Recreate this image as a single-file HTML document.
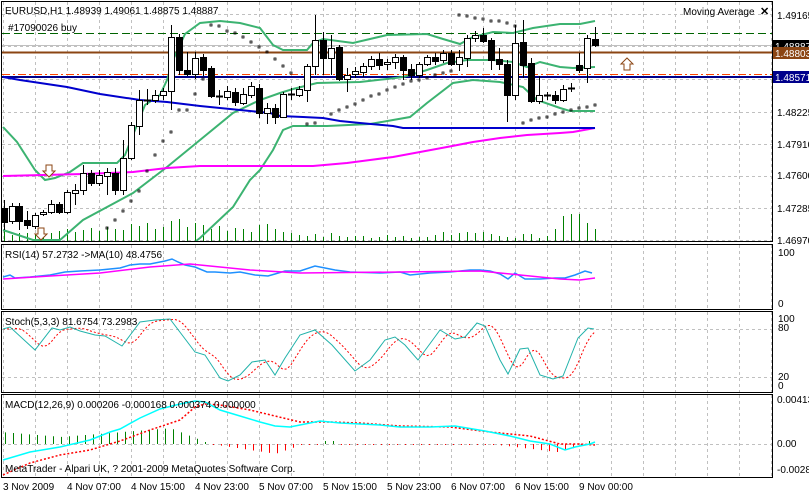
<!DOCTYPE html>
<html><head><meta charset="utf-8"><style>
body{margin:0;background:#fff;width:809px;height:494px;overflow:hidden}
svg{display:block;font-family:"Liberation Sans",sans-serif}
</style></head><body>
<svg id="s" width="809" height="494" xmlns="http://www.w3.org/2000/svg">
<rect x="0" y="0" width="809" height="494" fill="#fff"/>
<g id="grid" stroke="#c0c0c0" stroke-dasharray="3,3" stroke-width="1"></g>
<g id="main"></g>
<g id="frames" fill="none" stroke="#000" stroke-width="1">
<rect x="1.5" y="1.5" width="771" height="240"/>
<rect x="1.5" y="244.5" width="771" height="65"/>
<rect x="1.5" y="311.5" width="771" height="81"/>
<rect x="1.5" y="394.5" width="771" height="83"/>
</g>
<g font-size="10" fill="#000">
<text x="5" y="14">EURUSD,H1  1.48939 1.49061 1.48875 1.48887</text>
<text x="8" y="31">#17090026 buy</text>
<text x="683" y="15">Moving Average</text>
<text x="760" y="15" font-size="11" font-weight="bold">✕</text>
<text x="777" y="19">1.49165</text>
<text x="777" y="116">1.48225</text>
<text x="777" y="148">1.47910</text>
<text x="777" y="179">1.47600</text>
<text x="777" y="212">1.47285</text>
<text x="777" y="244">1.46970</text>
<text x="778" y="256">100</text>
<text x="778" y="307">0</text>
<text x="778" y="322">100</text>
<text x="778" y="331">80</text>
<text x="778" y="380">20</text>
<text x="778" y="389">0</text>
<text x="777" y="403">0.00413</text>
<text x="777" y="447">0.00</text>
<text x="777" y="473">-0.00282</text>
<text x="5" y="258">RSI(14) 57.2732  ->MA(10) 48.4756</text>
<text x="5" y="325">Stoch(5,3,3) 81.6754 73.2983</text>
<text x="5" y="408">MACD(12,26,9) 0.000206 -0.000168 0.000374 0.000000</text>
<text x="5" y="472">MetaTrader - Alpari UK, ? 2001-2009 MetaQuotes Software Corp.</text>
<text x="3" y="490">3 Nov 2009</text>
<text x="67" y="490">4 Nov 07:00</text>
<text x="131" y="490">4 Nov 15:00</text>
<text x="195" y="490">4 Nov 23:00</text>
<text x="259" y="490">5 Nov 07:00</text>
<text x="323" y="490">5 Nov 15:00</text>
<text x="387" y="490">5 Nov 23:00</text>
<text x="451" y="490">6 Nov 07:00</text>
<text x="515" y="490">6 Nov 15:00</text>
<text x="579" y="490">9 Nov 00:00</text>
</g>
<g id="plabels" font-size="10"></g>
</svg>
<script>
var NS="http://www.w3.org/2000/svg";
function el(p,t,a){var e=document.createElementNS(NS,t);for(var k in a)e.setAttribute(k,a[k]);document.getElementById(p).appendChild(e);return e;}
function pl(pts,c,w,d){var s=pts.map(function(p){return p[0]+","+p[1]}).join(" ");var a={points:s,fill:"none",stroke:c,"stroke-width":w||1};if(d)a["stroke-dasharray"]=d;el("main","polyline",a);}
// grid
for(var x=3;x<772;x+=32){[[2,241],[245,309],[312,392],[395,477]].forEach(function(r){el("grid","line",{x1:x+.5,y1:r[0],x2:x+.5,y2:r[1]});});}
[14,46,79,112,144,176,208,240].forEach(function(y){el("grid","line",{x1:2,y1:y+.5,x2:772,y2:y+.5});});
[329,377].forEach(function(y){el("grid","line",{x1:2,y1:y+.5,x2:772,y2:y+.5});});
el("grid","line",{x1:2,y1:444.5,x2:772,y2:444.5});
// horizontal lines
el("main","line",{x1:2,y1:33.5,x2:772,y2:33.5,stroke:"#006400","stroke-dasharray":"8,4"});
el("main","line",{x1:2,y1:45.5,x2:772,y2:45.5,stroke:"#c0c0c0"});
el("main","line",{x1:2,y1:52.5,x2:772,y2:52.5,stroke:"#8b4513","stroke-width":2});
el("main","line",{x1:2,y1:74.5,x2:772,y2:74.5,stroke:"#ff4500","stroke-dasharray":"8,3,2,3"});
el("main","line",{x1:2,y1:77,x2:772,y2:77,stroke:"#00008b","stroke-width":2});
// volumes
var vol=[10,6,8,8,7,9,8,10,12,9,11,13,10,14,12,11,17,15,18,12,14,20,22,14,18,16,12,15,10,13,12,9,16,17,12,9,8,6,5,7,4,8,5,4,5,5,3,4,6,4,5,3,4,4,6,9,6,8,9,8,9,7,5,4,3,7,7,3,5,12,25,27,27,18,12,10,8,5,6,3,5,9];
// candles [x,open,close,high,low]
var C=[[4,208,222,200,230],[12,221,206,203,224],[19,206,221,203,230],[27,220,225,211,229],[35,226,215,213,229],[43,214,212,210,216],[51,212,204,200,214],[59,204,212,202,214],[67,212,192,190,214],[75,193,190,184,205],[83,190,173,165,195],[91,173,183,170,186],[99,183,175,170,186],[107,176,172,168,195],[115,173,190,168,195],[123,190,158,140,195],[131,158,125,122,160],[139,126,100,90,135],[147,100,100,89,105],[155,100,95,90,103],[163,95,91,88,100],[171,91,37,25,110],[179,37,70,34,75],[187,70,74,52,76],[195,74,58,52,79],[203,57,70,54,76],[211,68,96,66,98],[219,96,96,90,105],[227,97,91,86,100],[235,92,102,88,106],[243,103,94,88,105],[251,95,86,82,98],[259,88,113,84,118],[267,113,108,103,124],[275,108,117,104,124],[283,117,94,92,118],[291,94,94,88,100],[299,95,89,86,97],[307,90,66,64,102],[315,66,40,15,75],[323,40,58,32,75],[331,58,48,35,75],[339,47,79,45,81],[347,79,75,68,92],[355,74,71,67,78],[363,72,66,63,77],[371,66,59,56,70],[379,59,65,53,70],[387,64,62,59,70],[395,62,57,54,69],[403,57,70,55,80],[411,69,75,64,80],[419,75,64,62,78],[427,64,57,55,66],[435,57,61,53,65],[443,60,53,50,63],[451,53,64,50,66],[459,64,57,50,71],[467,58,38,35,67],[475,38,35,31,42],[483,35,41,28,43],[491,40,60,38,70],[499,59,64,48,70],[507,64,95,60,122],[515,95,43,25,100],[523,42,65,20,78],[531,63,101,58,103],[539,101,95,76,104],[547,95,95,92,100],[555,95,100,91,104],[563,100,89,85,102],[571,88,88,83,92],[579,65,70,53,73],[587,68,38,35,83],[595,39,45,27,47]];
C.forEach(function(c,i){var v=vol[i]||6;el("main","line",{x1:c[0]+.5,y1:241,x2:c[0]+.5,y2:241-v,stroke:"#008000"});});
// indicators lines (drawn before candles)
pl([[3,127],[17,142],[35,170],[45,180],[55,178],[70,172],[83,163],[117,163],[125,155],[135,130],[145,105],[160,95],[167,80],[173,60],[185,34],[200,23],[220,21],[240,23],[260,28],[273,45],[283,50],[307,50],[313,43],[323,39],[353,43],[370,39],[387,35],[427,34],[443,39],[460,44],[473,37],[493,32],[513,33],[533,28],[560,24],[580,24],[595,21]],"#3cb371",2);
pl([[3,230],[33,240],[60,240],[83,220],[133,193],[167,167],[200,140],[233,113],[260,100],[280,93],[293,89],[317,83],[360,82],[387,79],[403,77],[427,70],[447,63],[467,60],[493,60],[513,62],[527,67],[540,62],[560,67],[573,68],[595,67]],"#3cb371",2);
pl([[196,241],[200,238],[233,207],[250,180],[260,170],[273,150],[283,130],[293,126],[327,126],[370,124],[393,120],[410,117],[427,103],[453,83],[473,80],[500,82],[523,87],[537,100],[560,108],[570,111],[595,111]],"#3cb371",2);
pl([[3,176],[83,174],[133,172],[167,168],[200,166],[260,166],[313,166],[347,163],[370,160],[393,157],[420,152],[447,147],[473,142],[500,138],[527,135],[560,133],[573,132],[595,128]],"#ff00ff",2);
pl([[3,77],[20,80],[67,87],[100,94],[140,100],[167,102],[200,106],[240,110],[270,113],[280,116],[303,117],[323,118],[340,121],[360,123],[393,126],[403,128],[513,128],[547,128],[595,128]],"#0000cd",2);
// candles
C.forEach(function(c){var x=c[0];el("main","line",{x1:x+.5,y1:c[3],x2:x+.5,y2:c[4],stroke:"#000"});
var t=Math.min(c[1],c[2]),b=Math.max(c[1],c[2]);if(b-t<1){el("main","line",{x1:x-3,y1:t+.5,x2:x+4,y2:t+.5,stroke:"#000","stroke-width":2});return;}
el("main","rect",{x:x-3+.5,y:t+.5,width:6,height:b-t,fill:c[2]<c[1]?"#fff":"#000",stroke:"#000"});});
// SAR
[[107,228],[115,220],[123,211],[131,201],[139,191],[147,171],[155,155],[163,141],[171,132],[179,110],[187,110],[195,94],[203,79],[211,25],[219,26],[227,31],[235,33],[243,37],[251,42],[259,47],[267,52],[275,59],[283,66],[291,73],[307,124],[315,123],[331,114],[339,110],[347,107],[355,104],[363,100],[371,96],[379,94],[387,90],[395,87],[403,84],[411,81],[419,80],[427,78],[435,75],[443,73],[451,71],[459,15],[467,16],[475,18],[483,19],[491,21],[499,21],[507,23],[515,26],[523,123],[531,120],[539,118],[547,117],[555,114],[563,112],[571,110],[579,108],[587,107],[595,105]].forEach(function(p){el("main","rect",{x:p[0]-1,y:p[1]-1,width:2,height:2,fill:"none",stroke:"#000","stroke-width":.8});});
// arrows
function arrow(x,y,up){var s=up?-1:1;var pts=[[x-3,y-6*s],[x+3,y-6*s],[x+3,y],[x+6,y],[x,y+6*s],[x-6,y],[x-3,y]];el("main","polygon",{points:pts.map(function(p){return p.join(",")}).join(" "),fill:"#fff",stroke:"#8b4513"});}
arrow(49,171,false);arrow(41,234,false);arrow(627,64,true);
// RSI
pl([[3,277],[10,275],[15,278],[30,277],[50,275],[65,272],[80,271],[100,270],[120,268],[130,265],[140,264],[150,264],[165,261],[172,259],[178,262],[185,265],[195,267],[207,272],[215,272],[230,273],[240,272],[255,275],[268,276],[275,274],[285,271],[300,271],[315,266],[325,268],[335,270],[350,272],[380,273],[400,272],[410,275],[430,273],[450,272],[460,271],[470,270],[480,270],[490,271],[500,274],[508,279],[515,273],[525,279],[540,279],[555,278],[565,278],[575,275],[585,271],[592,273]],"#1e90ff",1.5);
pl([[3,279],[50,276],[100,273],[150,267],[190,264],[210,266],[250,270],[300,273],[400,272],[480,271],[520,275],[560,279],[580,280],[595,278]],"#ff00ff",1.5);
// Stoch
var st=[[3,329],[10,327],[35,350],[52,328],[60,330],[70,327],[80,331],[95,335],[105,336],[122,346],[140,322],[155,320],[170,319],[195,352],[205,355],[220,378],[228,381],[240,375],[252,362],[265,360],[275,375],[285,358],[300,335],[315,330],[332,345],[355,371],[370,360],[385,340],[395,337],[405,345],[418,360],[440,330],[455,339],[465,337],[477,323],[485,326],[500,360],[508,374],[520,349],[528,348],[540,375],[553,379],[563,376],[578,338],[588,328],[594,329]];
function interp(a,x){if(x<=a[0][0])return a[0][1];for(var i=1;i<a.length;i++)if(x<=a[i][0]){var p=a[i-1],q=a[i];return p[1]+(q[1]-p[1])*(x-p[0])/(q[0]-p[0]);}return a[a.length-1][1];}
var sig=[];for(var x=3;x<=595;x+=4){var s=0;for(var k=4;k<=16;k+=2)s+=interp(st,x-k);sig.push([x,(s/7).toFixed(1)]);}
pl(sig,"#ff0000",1,"2,2");
pl(st,"#20b2aa",1);
// MACD histogram
for(var x=5;x<=595;x+=8){var h;
if(x<210){h=x<60?12-x*0.08:(x<170?7+(x-60)*0.08:16-(x-170)*0.4);el("main","line",{x1:x+.5,y1:444,x2:x+.5,y2:444-Math.max(h,0.5),stroke:"#008000"});}
else{if(x<300)h=x<275?(x-210)*0.15:10-(x-275)*0.35;else if(x<490)h=(x>=323&&x<340)?-1:1;else h=(x<560?(x-490)*0.12:8-(x-560)*0.3);
if(h>=0)el("main","line",{x1:x+.5,y1:444,x2:x+.5,y2:444+Math.max(h,1),stroke:"#ff0000"});else el("main","line",{x1:x+.5,y1:444,x2:x+.5,y2:441,stroke:"#008000"});}}
pl([[3,475],[30,463],[60,455],[90,450],[120,441],[150,430],[180,420],[195,407],[205,404],[220,405],[250,410],[275,416],[300,422],[330,422],[360,423],[400,426],[450,427],[490,432],[530,436],[560,444],[580,444],[595,445]],"#ff0000",1.5,"2,2");
pl([[3,460],[30,452],[60,447],[90,440],[110,432],[120,429],[140,418],[160,409],[180,404],[195,401],[205,402],[220,410],[240,416],[260,422],[275,426],[290,427],[305,424],[320,421],[340,423],[380,425],[400,427],[430,427],[455,426],[485,431],[510,436],[530,441],[550,444],[565,450],[575,447],[590,444],[595,442]],"#00ffff",1.5);
// price labels
function plab(y,bg,txt){el("plabels","rect",{x:773,y:y-6,width:36,height:12,fill:bg});var t=el("plabels","text",{x:775,y:y+4,fill:"#fff"});t.textContent=txt;}
plab(46,"#000","1.48887");plab(53,"#8b4513","1.48803");plab(77,"#00008b","1.48571");
</script>
</body></html>
